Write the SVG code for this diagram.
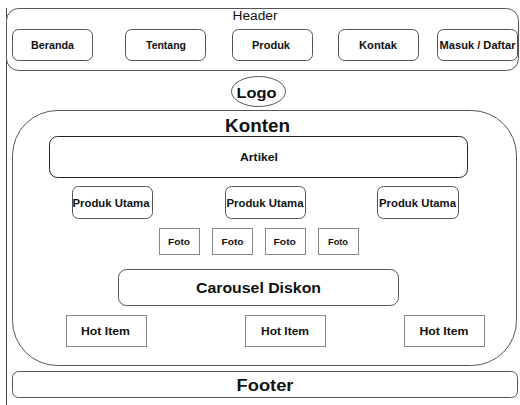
<svg xmlns="http://www.w3.org/2000/svg" width="520" height="405" viewBox="0 0 520 405">
  <style>
    text { font-family: "Liberation Sans", Arial, sans-serif; fill: #111; text-anchor: middle; dominant-baseline: central; }
    .b { font-weight: bold; }
    .box { fill: #fff; stroke: #555; stroke-width: 1; }
    .soft { fill: #fff; stroke: #888; stroke-width: 1; }
    .dark { fill: #fff; stroke: #222; stroke-width: 1; }
  </style>
  <rect width="520" height="405" fill="#fff"/>

  <!-- page edge -->
  <line x1="6.5" y1="8" x2="6.5" y2="405" stroke="#444" stroke-width="1"/>

  <g id="header">
    <rect class="box" x="6.5" y="8.5" width="512" height="62" rx="12"/>
    <text x="255" y="16" font-size="12.5" fill="#333" textLength="45" lengthAdjust="spacingAndGlyphs">Header</text>
  </g>
  <g id="nav-beranda">
    <rect class="box" x="12.5" y="29.5" width="80" height="31" rx="6"/>
    <text class="b" x="52.5" y="45" font-size="10.5" textLength="43" lengthAdjust="spacingAndGlyphs">Beranda</text>
  </g>
  <g id="nav-tentang">
    <rect class="box" x="125.5" y="29.5" width="80" height="31" rx="6"/>
    <text class="b" x="166" y="45" font-size="10.5" textLength="40" lengthAdjust="spacingAndGlyphs">Tentang</text>
  </g>
  <g id="nav-produk">
    <rect class="box" x="232.5" y="29.5" width="80" height="31" rx="6"/>
    <text class="b" x="271" y="45" font-size="10.5" textLength="38" lengthAdjust="spacingAndGlyphs">Produk</text>
  </g>
  <g id="nav-kontak">
    <rect class="box" x="338.5" y="29.5" width="80" height="31" rx="6"/>
    <text class="b" x="378" y="45" font-size="10.5" textLength="38" lengthAdjust="spacingAndGlyphs">Kontak</text>
  </g>
  <g id="nav-masuk">
    <rect class="box" x="437.5" y="29.5" width="80" height="31" rx="6"/>
    <text class="b" x="477.5" y="45" font-size="10.5" textLength="76" lengthAdjust="spacingAndGlyphs">Masuk / Daftar</text>
  </g>

  <g id="logo">
    <ellipse class="box" cx="258.5" cy="91.5" rx="27" ry="15"/>
    <text class="b" x="256.5" y="92.5" font-size="15" textLength="40" lengthAdjust="spacingAndGlyphs">Logo</text>
  </g>

  <g id="konten">
    <rect class="box" x="12.5" y="110.5" width="504" height="255" rx="45"/>
    <text class="b" x="257.5" y="126" font-size="17.5" textLength="65" lengthAdjust="spacingAndGlyphs">Konten</text>
  </g>

  <g id="artikel">
    <rect class="dark" x="49.5" y="136.5" width="418" height="41" rx="8"/>
    <text class="b" x="259" y="157" font-size="11.5" textLength="38" lengthAdjust="spacingAndGlyphs">Artikel</text>
  </g>

  <g id="produk-utama-1">
    <rect class="box" x="72.5" y="186.5" width="80" height="32" rx="6"/>
    <text class="b" x="111" y="203" font-size="10" textLength="77" lengthAdjust="spacingAndGlyphs">Produk Utama</text>
  </g>
  <g id="produk-utama-2">
    <rect class="box" x="225.5" y="186.5" width="80" height="32" rx="6"/>
    <text class="b" x="265" y="203" font-size="10" textLength="77" lengthAdjust="spacingAndGlyphs">Produk Utama</text>
  </g>
  <g id="produk-utama-3">
    <rect class="box" x="377.5" y="186.5" width="81" height="32" rx="6"/>
    <text class="b" x="417.5" y="203" font-size="10" textLength="77" lengthAdjust="spacingAndGlyphs">Produk Utama</text>
  </g>

  <g id="foto-1">
    <rect class="soft" x="159.5" y="228.5" width="40" height="26"/>
    <text class="b" x="179" y="241.5" font-size="9.5" textLength="22" lengthAdjust="spacingAndGlyphs">Foto</text>
  </g>
  <g id="foto-2">
    <rect class="soft" x="212.5" y="228.5" width="40" height="26"/>
    <text class="b" x="232.5" y="241.5" font-size="9.5" textLength="22" lengthAdjust="spacingAndGlyphs">Foto</text>
  </g>
  <g id="foto-3">
    <rect class="soft" x="265.5" y="228.5" width="40" height="26"/>
    <text class="b" x="284.7" y="241.5" font-size="9.5" textLength="22.5" lengthAdjust="spacingAndGlyphs">Foto</text>
  </g>
  <g id="foto-4">
    <rect class="soft" x="318.5" y="228.5" width="40" height="26"/>
    <text class="b" x="338" y="241.5" font-size="9" textLength="20" lengthAdjust="spacingAndGlyphs">Foto</text>
  </g>

  <g id="carousel-diskon">
    <rect class="box" x="118.5" y="269.5" width="280" height="36" rx="8"/>
    <text class="b" x="258.5" y="287.5" font-size="14" textLength="125" lengthAdjust="spacingAndGlyphs">Carousel Diskon</text>
  </g>

  <g id="hot-item-1">
    <rect class="soft" x="66.5" y="315.5" width="80" height="31"/>
    <text class="b" x="105.5" y="331" font-size="11.5" textLength="49" lengthAdjust="spacingAndGlyphs">Hot Item</text>
  </g>
  <g id="hot-item-2">
    <rect class="soft" x="245.5" y="315.5" width="80" height="31"/>
    <text class="b" x="285" y="331" font-size="11.5" textLength="48" lengthAdjust="spacingAndGlyphs">Hot Item</text>
  </g>
  <g id="hot-item-3">
    <rect class="soft" x="404.5" y="315.5" width="80" height="31"/>
    <text class="b" x="444" y="331" font-size="11.5" textLength="49" lengthAdjust="spacingAndGlyphs">Hot Item</text>
  </g>

  <g id="footer">
    <rect class="box" x="12.5" y="371.5" width="505" height="26" rx="6"/>
    <text class="b" x="265" y="385" font-size="16" textLength="57" lengthAdjust="spacingAndGlyphs">Footer</text>
  </g>

  <g id="connectors"></g>
</svg>
